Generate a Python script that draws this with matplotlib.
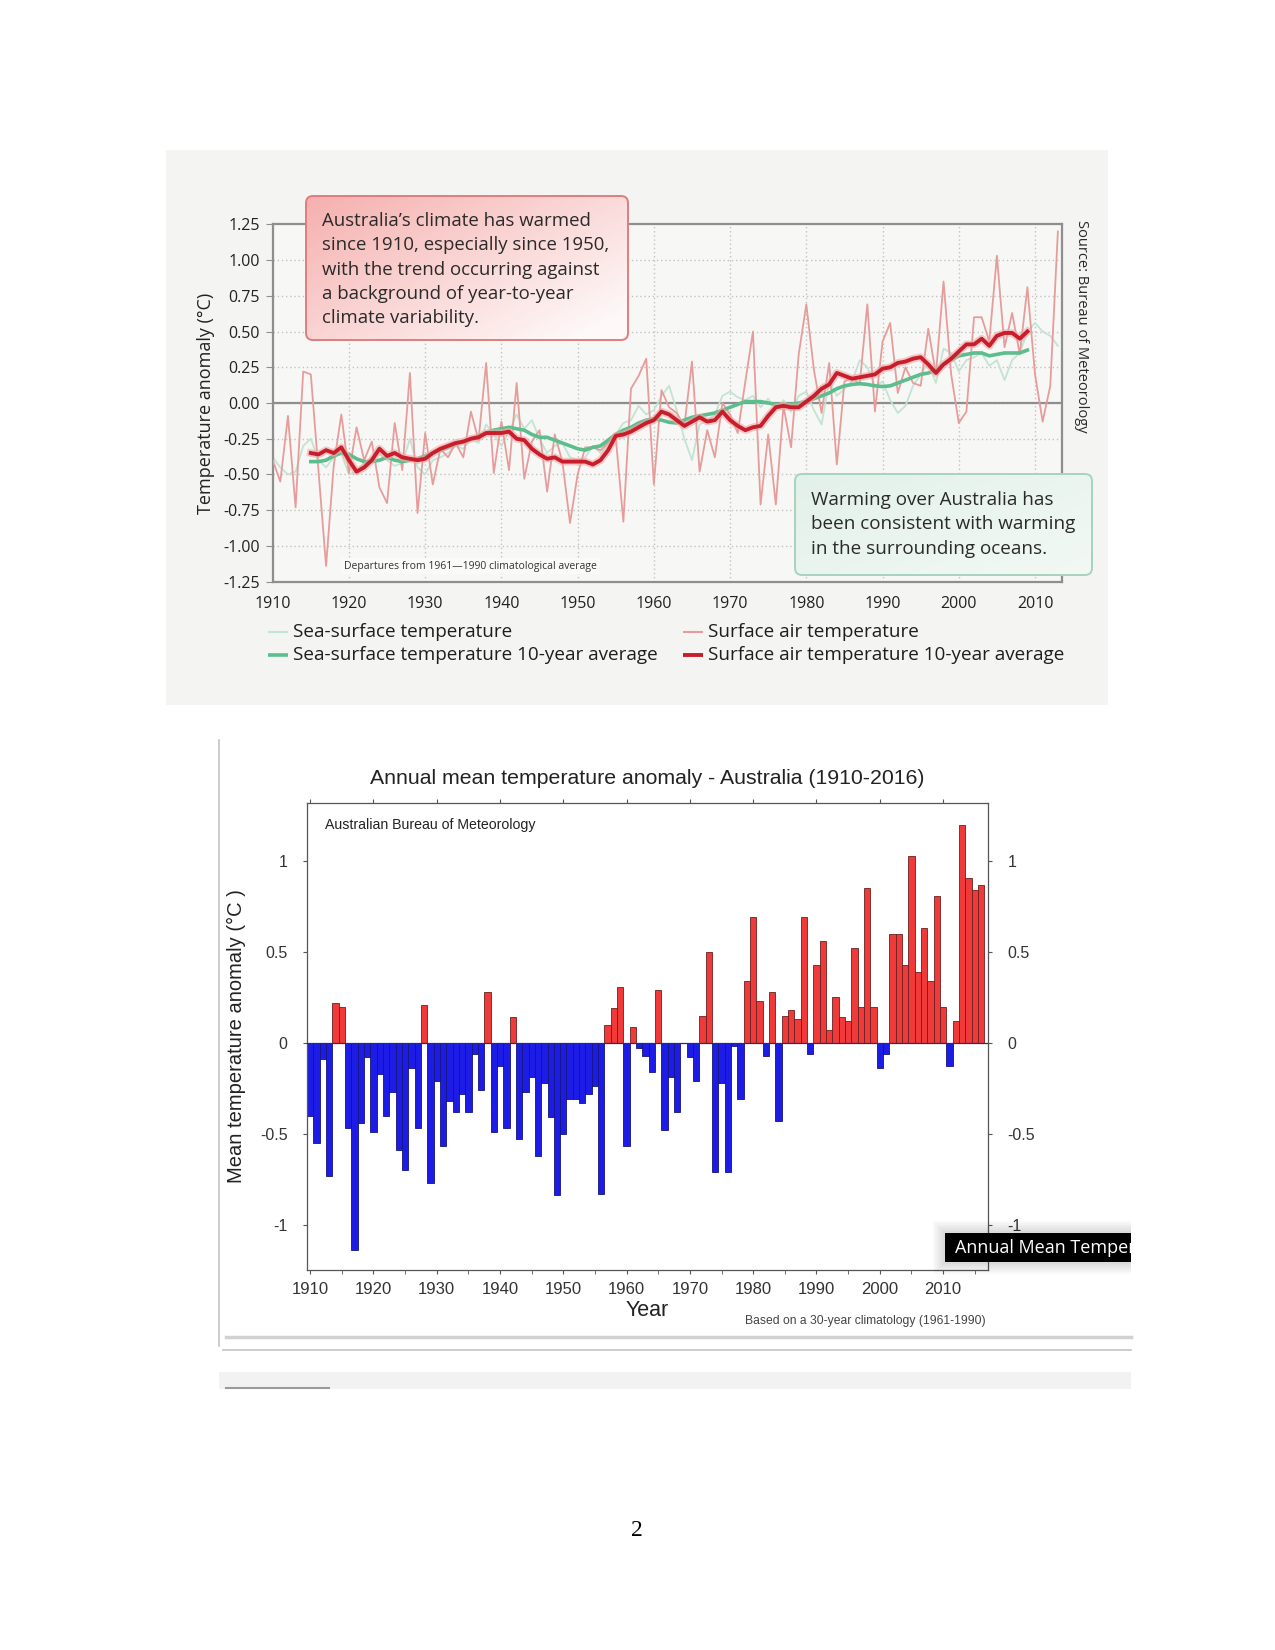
import matplotlib
matplotlib.use("Agg")
import matplotlib.pyplot as plt
import matplotlib.patheffects as pe
from matplotlib.patches import Rectangle, FancyBboxPatch
from matplotlib.colors import to_rgb
import numpy as np

W, H = 1275, 1650

# ---- bottom chart: annual mean temperature anomaly, Australia 1910-2016 ----
bar_years = list(range(1910, 2017))
bar_anomaly = [
    -0.40, -0.55, -0.09, -0.73, 0.22, 0.20, -0.47, -1.14, -0.44, -0.08,   # 1910s
    -0.49, -0.17, -0.40, -0.27, -0.59, -0.70, -0.14, -0.47, 0.21, -0.77,  # 1920s
    -0.21, -0.57, -0.32, -0.38, -0.28, -0.38, -0.06, -0.26, 0.28, -0.49,  # 1930s
    -0.13, -0.47, 0.14, -0.53, -0.27, -0.19, -0.62, -0.22, -0.41, -0.84,  # 1940s
    -0.50, -0.31, -0.31, -0.33, -0.28, -0.24, -0.83, 0.10, 0.19, 0.31,    # 1950s
    -0.57, 0.09, -0.03, -0.07, -0.16, 0.29, -0.48, -0.19, -0.38, 0.00,    # 1960s
    -0.08, -0.21, 0.15, 0.50, -0.71, -0.22, -0.71, -0.02, -0.31, 0.34,    # 1970s
    0.69, 0.23, -0.07, 0.28, -0.43, 0.15, 0.18, 0.13, 0.69, -0.06,       # 1980s
    0.43, 0.56, 0.07, 0.25, 0.14, 0.12, 0.52, 0.20, 0.85, 0.20,          # 1990s
    -0.14, -0.06, 0.60, 0.60, 0.43, 1.03, 0.39, 0.63, 0.34, 0.81,        # 2000s
    0.20, -0.13, 0.12, 1.20, 0.91, 0.84, 0.87,                           # 2010-2016
]

# ---- top chart: surface air / sea-surface temperature, 1910-2013 ----
air_years = list(range(1910, 2014))
air_temp = bar_anomaly[:len(air_years)]   # same annual series as the bars

sst_years = list(range(1910, 2014))
sst_temp = [
    -0.38, -0.45, -0.50, -0.48, -0.30, -0.25, -0.40, -0.45, -0.38, -0.35,
    -0.50, -0.48, -0.42, -0.38, -0.36, -0.40, -0.44, -0.42, -0.25, -0.45,
    -0.50, -0.40, -0.38, -0.35, -0.30, -0.32, -0.25, -0.28, -0.15, -0.22,
    -0.30, -0.20, -0.08, -0.18, -0.12, -0.25, -0.35, -0.30, -0.28, -0.38,
    -0.40, -0.38, -0.30, -0.35, -0.28, -0.22, -0.14, -0.12, -0.02, -0.08,
    -0.05, 0.05, 0.12, -0.05, -0.25, -0.40, -0.15, -0.12, -0.08, 0.05,
    0.08, 0.04, 0.02, 0.05, -0.03, 0.03, -0.05, 0.02, -0.06, 0.05,
    0.08, -0.05, -0.15, 0.15, 0.05, 0.10, 0.15, 0.30, 0.25, 0.12,
    0.15, 0.02, -0.07, -0.02, 0.12, 0.20, 0.28, 0.14, 0.38, 0.35,
    0.22, 0.30, 0.32, 0.35, 0.26, 0.30, 0.16, 0.30, 0.35, 0.50,
    0.56, 0.50, 0.47, 0.40,
]

avg_years = list(range(1915, 2010))
air_avg = [
    -0.35, -0.36, -0.33, -0.35, -0.31,
    -0.40, -0.48, -0.45, -0.40, -0.32, -0.37, -0.35, -0.38, -0.39, -0.40,
    -0.39, -0.35, -0.32, -0.30, -0.28, -0.27, -0.25, -0.24, -0.21, -0.21,
    -0.21, -0.20, -0.25, -0.26, -0.32, -0.36, -0.39, -0.38, -0.41, -0.41,
    -0.41, -0.41, -0.43, -0.40, -0.33, -0.23, -0.22, -0.20, -0.17, -0.14,
    -0.12, -0.06, -0.08, -0.12, -0.16, -0.13, -0.10, -0.13, -0.12, -0.06,
    -0.12, -0.16, -0.19, -0.17, -0.16, -0.09, -0.03, -0.02, -0.03, -0.03,
    0.01, 0.05, 0.10, 0.13, 0.21, 0.19, 0.17, 0.18, 0.19, 0.20,
    0.24, 0.25, 0.28, 0.29, 0.31, 0.32, 0.27, 0.21, 0.27, 0.31,
    0.36, 0.41, 0.41, 0.45, 0.40, 0.47, 0.49, 0.49, 0.45, 0.50,
]
sst_avg = [
    -0.41, -0.41, -0.40, -0.37, -0.35,
    -0.36, -0.39, -0.41, -0.41, -0.40, -0.38, -0.40, -0.41, -0.40, -0.39,
    -0.37, -0.35, -0.33, -0.31, -0.29, -0.27, -0.25, -0.23, -0.21, -0.19,
    -0.18, -0.17, -0.18, -0.19, -0.22, -0.24, -0.24, -0.26, -0.28, -0.30,
    -0.32, -0.33, -0.31, -0.30, -0.26, -0.22, -0.19, -0.17, -0.14, -0.12,
    -0.11, -0.12, -0.135, -0.14, -0.12, -0.10, -0.09, -0.08, -0.07, -0.05,
    -0.03, -0.01, 0.01, 0.01, 0.01, 0.00, -0.01, -0.01, -0.01, 0.00,
    0.01, 0.03, 0.05, 0.07, 0.10, 0.12, 0.13, 0.135, 0.13, 0.12,
    0.115, 0.12, 0.14, 0.16, 0.18, 0.20, 0.21, 0.23, 0.27, 0.30,
    0.33, 0.34, 0.35, 0.35, 0.33, 0.34, 0.35, 0.35, 0.35, 0.37,
]

top_yticks = [1.25, 1.00, 0.75, 0.50, 0.25, 0.00, -0.25, -0.50, -0.75, -1.00, -1.25]
top_xticks = list(range(1910, 2011, 10))
bot_yticks = [1, 0.5, 0, -0.5, -1]
bot_yticklabels = ["1", "0.5", "0", "-0.5", "-1"]

SANS = ["Open Sans", "DejaVu Sans"]
ARIAL = ["Liberation Sans", "DejaVu Sans"]


def rect(x0, y0, x1, y1):
    return [x0 / W, 1 - y1 / H, (x1 - x0) / W, (y1 - y0) / H]


fig = plt.figure(figsize=(W / 100, H / 100), dpi=100)
fig.patch.set_facecolor("white")

# background layer in pixel coordinates
back = fig.add_axes([0, 0, 1, 1], zorder=0)
back.set_xlim(0, W)
back.set_ylim(H, 0)
back.axis("off")
back.add_patch(Rectangle((166, 150), 942, 555, facecolor="#f4f4f2", edgecolor="none"))

# frame around the bar chart
back.plot([219, 219], [740, 1346], color="#c4c4c4", lw=1.2)
back.plot([223, 1131], [1350, 1350], color="#c4c4c4", lw=1.2)
back.plot([226, 1131], [1337, 1337], color="#d2d2d2", lw=2.5)
back.add_patch(Rectangle((219, 1372), 912, 17, facecolor="#f2f2f2", edgecolor="none"))
back.plot([226, 329], [1388, 1388], color="#9a9a9a", lw=1.5)

# ---------------- top chart ----------------
ax1 = fig.add_axes(rect(272.7, 224.3, 1061.7, 581.7), zorder=1)
ax1.set_facecolor("#f7f7f5")
ax1.set_xlim(1910, 2013.5)
ax1.set_ylim(-1.25, 1.25)
for yv in top_yticks[1:-1]:
    ax1.axhline(yv, color="#c2c2c2", lw=1, ls=(0, (1, 2)), zorder=0)
for xv in top_xticks[1:]:
    ax1.axvline(xv, color="#c2c2c2", lw=1, ls=(0, (1, 2)), zorder=0)
ax1.axhline(0, color="#8e8e8e", lw=1.6, zorder=1)

ax1.plot(sst_years, sst_temp, color="#c3e4d2", lw=1.3, zorder=2)
ax1.plot(air_years, air_temp, color="#e79c9c", lw=1.3, zorder=3)
ax1.plot(avg_years, sst_avg, color="#5cbd8d", lw=2.6, zorder=4)
ax1.plot(avg_years, air_avg, color="#c81e2c", lw=2.8, zorder=5,
         path_effects=[pe.Stroke(linewidth=5.5, foreground="#f2a7a7", alpha=0.6), pe.Normal()])

for s in ax1.spines.values():
    s.set_color("#8e8e8e")
    s.set_linewidth(1.6)
ax1.set_yticks(top_yticks)
ax1.set_yticklabels([f"{v:.2f}" for v in top_yticks])
ax1.set_xticks(top_xticks)
ax1.tick_params(axis="y", length=5, color="#8e8e8e", pad=4, labelsize=11.5, labelcolor="#222222")
ax1.tick_params(axis="x", length=0, pad=10, labelsize=11.5, labelcolor="#222222")
for lab in ax1.get_xticklabels() + ax1.get_yticklabels():
    lab.set_fontfamily(SANS)
    lab.set_fontweight("medium")
ax1.set_ylabel("Temperature anomaly (°C)", fontsize=13, family=SANS, weight="medium",
               color="#222222", labelpad=6)

# ---------------- bottom chart ----------------
ax2 = fig.add_axes(rect(307, 803, 988, 1270), zorder=1)
ax2.set_facecolor("white")
colors = ["#f03a3a" if v > 0 else "#1c1ce6" for v in bar_anomaly]
edges = ["#6a2020" if v > 0 else "#14147a" for v in bar_anomaly]
ax2.bar(bar_years, bar_anomaly, width=1.0, color=colors, edgecolor=edges, linewidth=0.6, zorder=2)
ax2.axhline(0, color="#2a2a7a", lw=0.9, zorder=3)
ax2.set_xlim(1909.5, 2017.1)
ax2.set_ylim(-1.25, 1.32)
for s in ax2.spines.values():
    s.set_color("#555555")
    s.set_linewidth(0.9)
ax2.set_yticks(bot_yticks)
ax2.set_yticklabels(bot_yticklabels)
ax2.tick_params(axis="y", left=True, right=True, labelleft=True, labelright=True,
                direction="out", length=3, pad=11, labelsize=11.5, labelcolor="#333333", color="#555555")
ax2.set_xticks(list(range(1910, 2011, 10)))
ax2.set_xticks(list(range(1915, 2016, 10)), minor=True)
ax2.tick_params(axis="x", which="major", top=True, bottom=True, direction="out", length=3,
                pad=6, labelsize=12, labelcolor="#333333", color="#555555")
ax2.tick_params(axis="x", which="minor", top=False, bottom=True, direction="out", length=3,
                color="#555555")
for lab in ax2.get_xticklabels() + ax2.get_yticklabels(which="both"):
    lab.set_fontfamily(ARIAL)
ax2.set_xlabel("Year", fontsize=15.5, family=ARIAL, color="#222222", labelpad=2)
ax2.set_ylabel("Mean temperature anomaly (°C )", fontsize=14.5, family=ARIAL, color="#222222",
               labelpad=10)
ax2.set_title("Annual mean temperature anomaly - Australia (1910-2016)", fontsize=15.3,
              family=ARIAL, color="#222222", pad=14)
ax2.text(0.026, 0.967, "Australian Bureau of Meteorology", transform=ax2.transAxes,
         fontsize=10.2, family=ARIAL, color="#222222", va="top")

# ---------------- front layer: boxes, legend, notes ----------------
front = fig.add_axes([0, 0, 1, 1], zorder=5)
front.patch.set_alpha(0)
front.axis("off")


def gradient_box(ax, x0, y0, x1, y1, c_start, c_end, edge):
    box = FancyBboxPatch((x0, y0), x1 - x0, y1 - y0, boxstyle="round,pad=0,rounding_size=7",
                         facecolor="none", edgecolor=edge, linewidth=1.4, zorder=3)
    ax.add_patch(box)
    gy, gx = np.mgrid[0:1:60j, 0:1:120j]
    t = np.clip(0.6 * gx + 0.5 * gy, 0, 1)[..., None]
    rgb = (1 - t) * np.array(to_rgb(c_start)) + t * np.array(to_rgb(c_end))
    im = ax.imshow(rgb, extent=(x0, x1, y1, y0), aspect="auto", zorder=2, interpolation="bilinear")
    im.set_clip_path(box)


gradient_box(front, 306, 196, 628, 340, "#f5b0ae", "#fef8f8", "#e27c7c")
gradient_box(front, 795, 474, 1092, 575, "#e2f1e9", "#f1f8f4", "#a6d4bd")
front.set_xlim(0, W)
front.set_ylim(H, 0)

note1 = ["Australia\u2019s climate has warmed", "since 1910, especially since 1950,",
         "with the trend occurring against", "a background of year-to-year",
         "climate variability."]
for i, line in enumerate(note1):
    front.text(322, 221 + i * 24.3, line, fontsize=13.4, family=SANS, color="#2a2a2a",
               va="center", zorder=4)
note2 = ["Warming over Australia has", "been consistent with warming", "in the surrounding oceans."]
for i, line in enumerate(note2):
    front.text(811, 500 + i * 24.3, line, fontsize=13.6, family=SANS, color="#2a2a2a",
               va="center", zorder=4)

front.text(344, 566, "Departures from 1961\u20141990 climatological average", fontsize=7.5,
           family=SANS, color="#333333", va="center", zorder=4,
           bbox=dict(facecolor="#fafaf9", edgecolor="none", pad=2))
front.text(1081, 326, "Source: Bureau of Meteorology", rotation=-90, fontsize=10.5,
           family=SANS, weight="medium", color="#2a2a2a", ha="center", va="center")

# legend
legend_items = [
    (268, 632, "#c3e4d2", 1.5, "Sea-surface temperature"),
    (268, 655, "#5cbd8d", 2.6, "Sea-surface temperature 10-year average"),
    (683, 632, "#e79c9c", 1.5, "Surface air temperature"),
    (683, 655, "#c81e2c", 2.8, "Surface air temperature 10-year average"),
]
for x, y, c, lw, label in legend_items:
    front.plot([x, x + 20], [y, y], color=c, lw=lw, solid_capstyle="butt")
    front.text(x + 25, y, label, fontsize=13.6, family=SANS, weight="medium",
               color="#1e1e1e", va="center")

# bottom chart footnote
front.text(986, 1321, "Based on a 30-year climatology (1961-1990)", fontsize=8.7,
           family=ARIAL, color="#444444", ha="right", va="center")

# tooltip, clipped at the right edge of the page crop
for k in range(1, 7):
    front.add_patch(Rectangle((945 - 2 * k, 1233 - 2 * k), 186 + 2 * k, 29 + 4 * k,
                              facecolor="black", edgecolor="none", alpha=0.025, zorder=5))
tip = Rectangle((945, 1233), 186, 29, facecolor="black", edgecolor="none", zorder=6)
front.add_patch(tip)
tip_text = front.text(955, 1248, "Annual Mean Temperature", fontsize=13, family=SANS,
                      weight="medium", color="white", va="center", zorder=7)
tip_text.set_clip_path(tip)

# page number
front.text(637, 1531, "2", fontsize=17, family=["Liberation Serif", "DejaVu Serif"],
           color="black", ha="center", va="center")

fig.savefig("out.png", dpi=100)
